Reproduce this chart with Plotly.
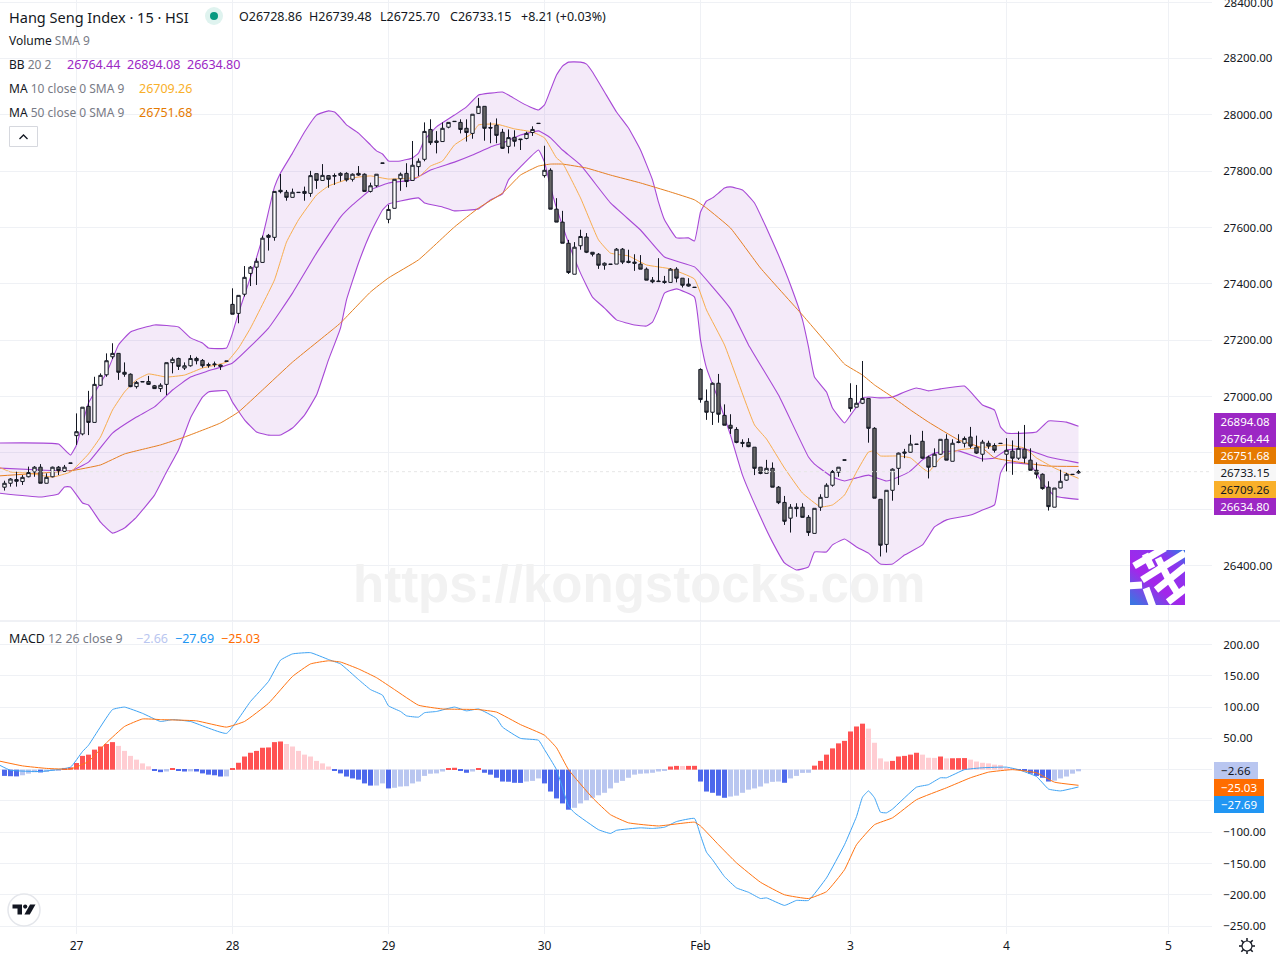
import base64
import plotly.graph_objects as go

# ============================================================
# 1. DATA (one entry per 15 min bar)
# ============================================================
opens = [26678,26692,26705,26698,26715,26732,26749,26692,26715,26749,26734,26764,26861,26867,26965,26908,27040,27077,27141,27153,
         27086,27079,27035,27053,27053,27038,27028,27043,27120,27135,27101,27109,27135,27128,27113,27113,27112,27126,27327,27295,
         27363,27437,27459,27476,27572,27565,27732,27725,27707,27725,27728,27721,27791,27767,27784,27782,27785,27792,27771,27792,
         27789,27728,27748,27829,27629,27668,27773,27792,27767,27816,27842,27948,27907,27905,27956,27977,27973,27952,27934,28005,
         28030,27955,27963,27938,27888,27920,27914,27916,27937,27970,27784,27803,27665,27619,27544,27434,27535,27566,27512,27505,
         27466,27470,27470,27523,27480,27477,27470,27452,27413,27410,27409,27405,27452,27420,27399,27388,27096,26983,26944,27047,
         26933,26898,26883,26837,26837,26820,26749,26727,26745,26678,26624,26568,26607,26607,26571,26514,26607,26642,26685,26731,
         26775,26993,26962,26976,26993,26887,26635,26475,26667,26745,26803,26802,26831,26841,26785,26751,26795,26848,26770,26839,
         26834,26856,26820,26795,26834,26826,26834,26795,26806,26781,26813,26774,26738,26724,26678,26607,26675,26703,26724,26728.86]
highs = [26701,26710,26733,26721,26751,26753,26760,26727,26751,26753,26757,26764,26940,26962,27020,27070,27082,27153,27189,27153,
         27121,27082,27055,27053,27073,27041,27047,27120,27139,27138,27121,27147,27141,27133,27120,27124,27114,27126,27384,27359,
         27463,27463,27491,27571,27577,27728,27790,27733,27738,27725,27745,27801,27791,27825,27786,27792,27796,27796,27792,27818,
         27792,27759,27789,27829,27680,27771,27795,27828,27907,27845,27973,27984,27942,27973,27973,27977,27984,27984,28002,28060,
         28030,27973,27987,27950,27948,27945,27914,27940,27959,27970,27890,27810,27704,27659,27556,27548,27592,27580,27512,27509,
         27476,27470,27527,27527,27521,27505,27502,27458,27424,27491,27428,27456,27459,27420,27420,27388,27100,27025,27050,27080,
         26972,26937,26891,26848,26852,26820,26749,26775,26766,26682,26647,26618,26621,26621,26579,26603,26653,26692,26739,26749,
         26775,27047,27041,27126,26993,26891,26635,26667,26745,26801,26814,26864,26831,26878,26790,26816,26848,26866,26848,26866,
         26858,26892,26861,26846,26843,26834,26834,26852,26844,26876,26899,26816,26766,26727,26699,26675,26740,26729,26724,26739.48]
lows = [26666,26680,26680,26686,26713,26715,26692,26692,26713,26721,26733,26763,26828,26862,26863,26908,27037,27070,27133,27059,
        27070,27033,27028,27052,27041,27027,27016,27005,27082,27094,27094,27106,27114,27102,27102,27104,27094,27125,27292,27260,
        27355,27392,27396,27475,27518,27553,27721,27695,27707,27724,27695,27709,27737,27766,27741,27751,27763,27763,27763,27783,
        27728,27724,27743,27828,27615,27668,27730,27743,27767,27783,27835,27893,27863,27905,27952,27976,27934,27905,27915,28003,
        27908,27899,27899,27879,27863,27887,27875,27913,27925,27969,27777,27665,27619,27544,27435,27434,27521,27509,27497,27453,
        27450,27469,27470,27470,27473,27446,27452,27413,27402,27407,27400,27405,27405,27387,27390,27387,26978,26917,26899,26907,
        26898,26867,26834,26820,26820,26721,26724,26727,26678,26618,26544,26517,26573,26570,26505,26514,26594,26642,26680,26715,
        26774,26946,26962,26973,26836,26639,26432,26446,26630,26686,26781,26801,26830,26779,26709,26751,26793,26774,26770,26834,
        26819,26816,26796,26769,26814,26801,26833,26734,26722,26775,26763,26738,26709,26669,26595,26607,26675,26701,26723,26725.70]
closes = [26692,26707,26699,26713,26730,26749,26692,26713,26749,26737,26749,26763,26875,26962,26908,27043,27075,27127,27153,27086,
          27079,27035,27050,27052,27043,27028,27040,27120,27132,27107,27109,27135,27127,27109,27111,27115,27107,27125,27292,27359,
          27423,27459,27480,27562,27565,27728,27727,27707,27725,27724,27721,27784,27767,27785,27771,27784,27792,27769,27789,27786,
          27728,27748,27789,27828,27664,27771,27789,27763,27821,27835,27941,27901,27902,27952,27973,27976,27948,27937,28002,28030,
          27952,27953,27927,27881,27919,27906,27912,27934,27948,27969,27803,27665,27619,27544,27440,27530,27568,27512,27505,27466,
          27473,27469,27523,27477,27476,27473,27452,27413,27407,27408,27405,27452,27420,27395,27392,27387,26989,26944,27047,26937,
          26898,26887,26837,26834,26822,26745,26727,26745,26678,26623,26557,26607,26602,26571,26517,26603,26642,26685,26734,26749,
          26774,26957,26976,26993,26887,26639,26472,26667,26742,26799,26799,26831,26830,26781,26749,26795,26848,26774,26834,26837,
          26851,26824,26799,26838,26824,26809,26833,26809,26781,26816,26781,26738,26724,26673,26609,26675,26699,26724,26723,26733.15]

bb_upper_bars = [-1,9,11,12,14,17,19,21,25,29,31,33,34,37,38,39,41,43,45,46,48,50,52,54,55,56,57,59,61,62,63,64,66,68,69,70,72,75,77,79,81,83,84,86,88,89,90,91,92,93,94,96,97,98,100,102,104,106,108,109,110,112,114,115,116,117,118,119,120,121,123,125,127,129,131,133,134,135,137,138,140,141,142,143,144,146,148,150,152,154,156,160,163,165,166,167,170,172,174,177,179]
bb_upper = [26835,26831,26792,26828,26977,27083,27183,27229,27254,27247,27208,27190,27172,27172,27225,27296,27424,27566,27744,27793,27864,27939,27999,28014,28010,27989,27964,27935,27893,27872,27861,27836,27836,27847,27864,27911,27957,27999,28028,28070,28077,28081,28070,28045,28024,28017,28035,28088,28141,28173,28187,28187,28180,28152,28081,28010,27953,27875,27769,27690,27627,27563,27563,27552,27655,27694,27705,27722,27740,27744,27733,27687,27598,27502,27396,27272,27176,27069,27016,26959,26906,26934,26963,26995,26998,26995,26998,27016,27030,27020,27027,27037,26970,26952,26892,26870,26870,26874,26913,26909,26894.08]
bb_basis_bars = [-1,6,11,14,18,22,25,28,31,34,38,44,48,52,56,58,61,64,68,71,75,78,81,83,86,89,91,93,96,101,106,110,115,118,121,124,129,134,135,138,140,142,144,147,149,151,153,155,159,163,165,167,170,174,179]
bb_basis = [26746,26739,26736,26767,26870,26927,26963,27023,27069,27091,27119,27243,27367,27509,27637,27680,27733,27758,27769,27804,27832,27857,27886,27900,27928,27943,27918,27875,27822,27687,27591,27495,27460,27389,27311,27183,27005,26785,26760,26714,26700,26711,26721,26700,26714,26736,26775,26799,26807,26778,26782,26810,26814,26785,26764.44]
bb_lower_bars = [-1,6,9,10,11,13,14,16,18,20,22,25,27,29,31,33,34,37,38,40,42,44,46,48,50,52,54,56,57,59,61,63,64,66,69,70,73,75,79,81,83,84,86,89,90,91,92,94,96,98,100,102,105,107,108,109,110,112,115,116,117,119,121,123,126,128,130,132,134,135,137,138,140,142,144,146,148,150,153,155,157,161,163,165,166,167,171,173,175,179]
bb_lower = [26657,26643,26654,26679,26679,26622,26615,26554,26515,26533,26572,26650,26732,26810,26924,26998,27016,27020,26980,26917,26874,26863,26863,26888,26934,27005,27130,27243,27343,27474,27580,27662,27683,27694,27705,27687,27673,27659,27666,27698,27719,27769,27815,27875,27832,27744,27669,27545,27438,27353,27314,27272,27254,27250,27264,27311,27367,27382,27353,27201,27101,26988,26863,26721,26572,26483,26409,26384,26395,26448,26448,26473,26494,26466,26444,26405,26405,26437,26473,26537,26562,26579,26597,26615,26728,26764,26757,26693,26647,26634.80]
ma10_bars = [-1,1,4,8,11,14,16,18,20,22,24,27,30,33,37,39,41,45,47,49,52,54,58,61,64,69,71,73,75,78,79,82,85,88,90,92,93,96,99,101,104,107,111,115,117,120,125,127,130,133,136,138,140,142,144,145,146,149,151,153,154,156,159,162,164,167,170,172,175,179]
ma10 = [26750,26732,26728,26714,26732,26796,26856,26952,27016,27059,27080,27069,27076,27101,27122,27172,27243,27414,27548,27627,27715,27747,27776,27783,27772,27779,27818,27836,27893,27935,27964,27967,27950,27939,27918,27847,27829,27705,27556,27509,27499,27467,27453,27417,27307,27183,26899,26849,26746,26657,26608,26615,26650,26732,26803,26807,26789,26789,26782,26746,26732,26782,26810,26817,26821,26828,26817,26782,26746,26709.26]
ma50_bars = [-1,6,11,16,20,26,30,36,39,43,48,55,56,61,64,69,75,79,83,86,89,91,93,97,101,106,111,115,117,121,126,133,138,140,143,145,148,151,154,159,163,165,169,174,179]
ma50 = [26718,26728,26736,26757,26796,26828,26856,26906,26945,27023,27122,27243,27261,27371,27421,27485,27602,27669,27722,27786,27818,27825,27825,27811,27786,27758,27726,27698,27669,27598,27456,27289,27165,27115,27076,27041,26998,26952,26909,26846,26817,26782,26767,26753,26751.68]

macd_hist = [-10,-10.5,-10.8,-9,-6.4,-4.2,-4.5,-3.7,-1.6,-1,2.7,3.7,10.6,22,24,32,37,41,44,38,
             30,22,16,10,5.3,-1,-4,-3,1.6,-2,-3,-2.8,-3,-6,-8,-9,-11,-10.8,2,11,
             21,27,30,35,35.5,44,45,41,37,30,24,21,14,10,5,-1,-6,-11,-14,-16,
             -22,-25.5,-25.4,-22,-30,-29,-27,-26.5,-22,-19,-10,-6.5,-6,-3,2,3,-1.6,-5,-3,1.6,
             -5,-8,-13,-19,-19.3,-21,-21.2,-19,-18,-14,-22,-35,-46,-54,-64,-61,-54,-49,-45,-41,
             -37,-30,-21,-18,-13,-8,-6.5,-6,-5,-3,-1.6,5,6,5.8,6,6.1,-19,-35,-37,-41.6,
             -45,-43,-41.6,-37,-32,-30,-27,-22,-19.5,-19,-21,-14,-10,-5.2,-5,6.4,14,24,34,42,
             46,61,69,73.5,65.6,43,18,13,14,21,22,24,27,24,19,18.8,21,18,18.2,18.4,
             18.5,16,13,11,10,8,7.5,3,1.6,-0.5,-1.6,-6.4,-10,-13,-19,-17.6,-14,-11,-6.4,-2.66]
macd_bars = [-1,1,6,11,13,14,18,20,23,26,28,31,37,41,44,46,48,51,54,56,59,61,63,64,66,67,69,70,72,75,77,79,82,83,86,89,90,92,94,95,99,101,102,106,108,110,112,115,116,117,118,120,122,124,126,127,130,132,134,137,140,142,143,144,145,146,147,148,152,154,156,157,160,163,167,169,172,174,176,179]
macd_line = [8,-1,-3,4,29,39,96,100,90,77,80,77,58,109,141,175,185,187,176,169,144,128,119,102,93,86,84,91,93,100,94,97,82,68,50,47,32,0,-58,-69,-96,-102,-97,-93,-94,-92,-83,-78,-105,-132,-144,-171,-189,-196,-206,-205,-217,-209,-209,-173,-120,-75,-44,-34,-45,-68,-69,-63,-28,-24,-13,-13,0,3,4,0,-11,-31,-34,-27.69]
signal_bars = [-1,3,7,11,14,17,20,23,26,32,37,40,44,48,51,54,56,59,62,65,69,73,79,82,86,90,92,94,98,101,104,109,115,116,119,122,126,130,134,137,140,142,145,148,152,157,161,164,168,172,175,179]
signal_line = [14,6,2,1,13,43,69,81,80,78,68,77,106,149,169,174,172,161,147,128,103,97,96,92,72,55,35,0,-45,-72,-85,-90,-84,-90,-120,-149,-180,-200,-206,-195,-160,-120,-88,-77,-48,-29,-13,-4,0,-5,-20,-25.03]

day_bars = [12,38,64,90,116,141,167,194]
day_labels = ["27","28","29","30","Feb","3","4","5"]
price_ticks = [26400,26600,26800,27000,27200,27400,27600,27800,28000,28200,28400]
# 26600, 26800, 0 and -50 sit behind the value tags in the original, only their gridlines show
# 28400 hangs off the top edge, plotly drops that label so it is added by hand further down
price_tick_labels = ["26400.00","","","27000.00","27200.00","27400.00","27600.00","27800.00","28000.00","28200.00",""]
macd_ticks = [200,150,100,50,0,-50,-100,-150,-200,-250]
macd_tick_labels = ["200.00","150.00","100.00","50.00","","","−100.00","−150.00","−200.00","−250.00"]

# ============================================================
# 2. SMALL HELPERS
# ============================================================
FONT = "Noto Sans"
INK = "#131722"
GREY = "#787b86"
GRID = "#eff1f5"
PURPLE = "#9c27c4"
BB_LINE = "#a748d6"
MA10_LINE = "#f8ad4e"
MA50_LINE = "#e67f22"
W, H = 1212, 934

def px(x):
    return x / W

def py(y):
    return 1 - y / H

def label(x, y, text, size=12.5, color=INK):
    # annotations carry 2px of padding and border, take it off so x is where the ink starts
    return dict(x=px(x - 2), y=py(y + 0.5), xref="paper", yref="paper", text=text, showarrow=False,
                xanchor="left", yanchor="middle", align="left", font=dict(family=FONT, size=size, color=color))

def tag(y, text, bg, fg, width=62):
    return dict(x=px(1214), y=py(y - 0.5), xref="paper", yref="paper", text=text, showarrow=False,
                xanchor="left", yanchor="middle", align="center", width=width, height=17, borderpad=0, borderwidth=0,
                bgcolor=bg, font=dict(family=FONT, size=11.5, color=fg))

def svg_src(svg):
    return "data:image/svg+xml;base64," + base64.b64encode(svg.encode()).decode()

def span(text, color):
    return f'<span style="color:{color}">{text}</span>'

def smooth_line(color, width=1):
    return dict(color=color, width=width, shape="spline", smoothing=0.35)

logo_svg = """<svg xmlns="http://www.w3.org/2000/svg" width="55" height="55" viewBox="0 0 55 55">
<defs><linearGradient id="g" x1="0.9" y1="0" x2="0.1" y2="1">
<stop offset="0" stop-color="#3f6fe6"/><stop offset="0.2" stop-color="#8a35ee"/><stop offset="0.6" stop-color="#a426ea"/><stop offset="1" stop-color="#3d74e2"/></linearGradient></defs>
<rect width="55" height="55" fill="url(#g)"/>
<g stroke="#fff" stroke-width="7" fill="none">
<path d="M4 16 L35 -2"/><path d="M12 30 L55 3"/><path d="M-2 36 L12 35"/><path d="M16 38 L24 60"/>
<path d="M26 40 L56 16"/><path d="M38 52 L56 38"/><path d="M15 4 L22 18"/><path d="M28 8 L38 28"/><path d="M38 28 L48 44"/>
</g></svg>"""

tv_svg = """<svg xmlns="http://www.w3.org/2000/svg" width="34" height="34" viewBox="0 0 34 34">
<circle cx="17" cy="17" r="16" fill="#fff" stroke="#e4e6eb" stroke-width="1.5"/>
<path d="M5.5 11.5H15V21.5H10.5V15.5H5.5Z" fill="#131722"/><circle cx="18.2" cy="13.6" r="2.1" fill="#131722"/>
<path d="M23 11.5H28.5L22.8 21.5H17.4Z" fill="#131722"/></svg>"""

gear_svg = """<svg xmlns="http://www.w3.org/2000/svg" width="18" height="18" viewBox="0 0 18 18">
<circle cx="9" cy="9" r="5" fill="none" stroke="#131722" stroke-width="1.2"/>
<g stroke="#131722" stroke-width="1.5"><path d="M9 1V4"/><path d="M9 14V17"/><path d="M1 9H4"/><path d="M14 9H17"/>
<path d="M3.3 3.3L5.4 5.4"/><path d="M12.6 12.6L14.7 14.7"/><path d="M3.3 14.7L5.4 12.6"/><path d="M12.6 5.4L14.7 3.3"/></g></svg>"""

# ============================================================
# 3. TRACES
# ============================================================
bars = list(range(len(closes)))

# TradingView colouring: strong when the histogram grows away from zero, pale when it shrinks
hist_colors = []
for i, v in enumerate(macd_hist):
    prev = macd_hist[i - 1] if i else 0
    if v >= 0:
        hist_colors.append("#ff5252" if v >= prev else "#ffcdd2")
    else:
        hist_colors.append("#4d68ec" if v < prev else "#b9c6f0")

fig = go.Figure()
fig.add_trace(go.Scatter(x=bb_lower_bars, y=bb_lower, mode="lines", line=smooth_line(BB_LINE, 1.1), xaxis="x", yaxis="y"))
fig.add_trace(go.Scatter(x=bb_upper_bars, y=bb_upper, mode="lines", line=smooth_line(BB_LINE, 1.1), xaxis="x", yaxis="y",
                         fill="tonexty", fillcolor="rgba(156,60,200,0.11)"))
fig.add_trace(go.Scatter(x=bb_basis_bars, y=bb_basis, mode="lines", line=smooth_line(BB_LINE, 1.1), xaxis="x", yaxis="y"))
fig.add_trace(go.Scatter(x=ma50_bars, y=ma50, mode="lines", line=smooth_line(MA50_LINE), xaxis="x", yaxis="y"))
fig.add_trace(go.Scatter(x=ma10_bars, y=ma10, mode="lines", line=smooth_line(MA10_LINE), xaxis="x", yaxis="y"))
# candles go on an overlay axis so they sit on top of the band
fig.add_trace(go.Candlestick(x=bars, open=opens, high=highs, low=lows, close=closes, xaxis="x", yaxis="y3", whiskerwidth=0,
                             increasing=dict(fillcolor="#ffffff", line=dict(color=INK, width=1)),
                             decreasing=dict(fillcolor="#666666", line=dict(color=INK, width=1))))
fig.add_trace(go.Bar(x=bars, y=macd_hist, marker=dict(color=hist_colors, line=dict(width=0)), xaxis="x2", yaxis="y2"))
fig.add_trace(go.Scatter(x=macd_bars, y=macd_line, mode="lines", line=smooth_line("#3ea3f4"), xaxis="x2", yaxis="y2"))
fig.add_trace(go.Scatter(x=signal_bars, y=signal_line, mode="lines", line=smooth_line("#ff7412"), xaxis="x2", yaxis="y2"))

# ============================================================
# 4. LAYOUT
# ============================================================
x_range = [-0.75, 201.25]
price_range = [26203, 28407.5]
axis_font = dict(family=FONT, size=11.5, color=INK)
common_x = dict(range=x_range, tickmode="array", tickvals=day_bars, gridcolor=GRID, gridwidth=1, zeroline=False, showline=False)
common_y = dict(side="right", tickmode="array", gridcolor=GRID, gridwidth=1, zeroline=False, showline=False,
                ticks="outside", ticklen=8, tickcolor="rgba(0,0,0,0)", tickfont=axis_font)

annotations = [
    label(9, 16, "Hang Seng Index · 15 · HSI", size=14.5),
    label(239, 16, "O26728.86"),
    label(309, 16, "H26739.48"),
    label(380, 16, "L26725.70"),
    label(450, 16, "C26733.15"),
    label(521, 16, "+8.21"),
    label(556, 16, "(+0.03%)"),
    label(9, 40, "Volume " + span("SMA 9", GREY), size=12),
    label(9, 64, "BB " + span("20 2", GREY), size=12),
    label(67, 64, "26764.44", color=PURPLE),
    label(127, 64, "26894.08", color=PURPLE),
    label(187, 64, "26634.80", color=PURPLE),
    label(9, 88, "MA " + span("10 close 0 SMA 9", GREY), size=12),
    label(139, 88, "26709.26", color="#f9b02a"),
    label(9, 112, "MA " + span("50 close 0 SMA 9", GREY), size=12),
    label(139, 112, "26751.68", color="#e57a00"),
    label(9, 638, "MACD " + span("12 26 close 9", GREY), size=12.4),
    label(136, 638, "−2.66", color="#b9c6f0"),
    label(175, 638, "−27.69", color="#2196f3"),
    label(221, 638, "−25.03", color="#ff6d00"),
    label(1224, 1.5, "28400.00", size=11.5),
    dict(x=px(639), y=py(584), xref="paper", yref="paper", text="<b>https://kongstocks.com</b>", showarrow=False,
         font=dict(family="Liberation Sans", size=51, color="#f2f2f2")),
    tag(422, "26894.08", PURPLE, "#ffffff"),
    tag(439, "26764.44", PURPLE, "#ffffff"),
    tag(456, "26751.68", "#e57a00", "#ffffff"),
    tag(473, "26733.15", "#f7f7f7", INK),
    tag(490, "26709.26", "#f9b02a", INK),
    tag(507, "26634.80", PURPLE, "#ffffff"),
    tag(771, "−2.66", "#b9c6f0", INK, width=44),
    tag(788, "−25.03", "#ff6d00", "#ffffff", width=50),
    tag(805, "−27.69", "#2196f3", "#ffffff", width=50),
]

shapes = [
    dict(type="line", xref="paper", yref="paper", x0=0, x1=1280 / W, y0=py(621), y1=py(621), line=dict(color="#e0e3eb", width=1)),
    dict(type="line", xref="paper", yref="y", x0=0, x1=1, y0=closes[-1], y1=closes[-1], line=dict(color="#e6e6e6", width=1, dash="dot")),
    dict(type="circle", xref="paper", yref="paper", x0=px(205), x1=px(223), y0=py(25), y1=py(7), fillcolor="#dff3ef", line=dict(width=0)),
    dict(type="circle", xref="paper", yref="paper", x0=px(210), x1=px(218), y0=py(20), y1=py(12), fillcolor="#089981", line=dict(width=0)),
    dict(type="rect", xref="paper", yref="paper", x0=px(9.5), x1=px(37.5), y0=py(146.5), y1=py(126.5), fillcolor="#ffffff", line=dict(color="#d6d8de", width=1)),
    dict(type="path", xref="paper", yref="paper", line=dict(color=INK, width=1.3),
         path=f"M {px(19.5)} {py(139)} L {px(23.5)} {py(135)} L {px(27.5)} {py(139)}"),
]

images = [
    dict(source=svg_src(logo_svg), xref="paper", yref="paper", x=px(1130), y=py(550), sizex=55 / W, sizey=55 / H,
         xanchor="left", yanchor="top", sizing="stretch", layer="above"),
    dict(source=svg_src(tv_svg), xref="paper", yref="paper", x=px(7), y=py(893), sizex=34 / W, sizey=34 / H,
         xanchor="left", yanchor="top", sizing="stretch", layer="above"),
    dict(source=svg_src(gear_svg), xref="paper", yref="paper", x=px(1238), y=py(937), sizex=18 / W, sizey=18 / H,
         xanchor="left", yanchor="top", sizing="stretch", layer="above"),
]

fig.update_layout(
    width=1280, height=960, margin=dict(l=0, r=68, t=0, b=26, pad=0),
    paper_bgcolor="#ffffff", plot_bgcolor="#ffffff", showlegend=False, bargap=0.17, boxgap=0.2,
    xaxis=dict(common_x, anchor="y", showticklabels=False, rangeslider=dict(visible=False)),
    xaxis2=dict(common_x, anchor="y2", ticktext=day_labels, tickfont=dict(family=FONT, size=12, color=INK),
                ticks="outside", ticklen=1, tickcolor="rgba(0,0,0,0)"),
    yaxis=dict(common_y, domain=[(H - 621) / H, 1], range=price_range, tickvals=price_ticks, ticktext=price_tick_labels),
    yaxis2=dict(common_y, domain=[0, (H - 622) / H], range=[-262.7, 236], tickvals=macd_ticks, ticktext=macd_tick_labels),
    yaxis3=dict(overlaying="y", range=price_range, visible=False, side="right"),
    annotations=annotations, shapes=shapes, images=images,
)

fig.write_html("out.html", config=dict(displayModeBar=False), post_script="document.body.style.margin='0';")
